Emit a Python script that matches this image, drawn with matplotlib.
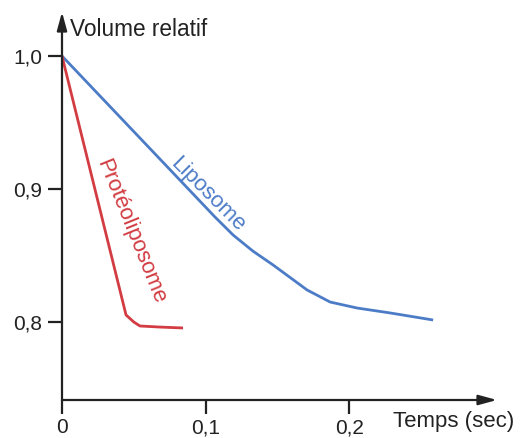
import matplotlib
matplotlib.use("Agg")
import matplotlib.pyplot as plt

plt.rcParams['font.family'] = ['Liberation Sans', 'DejaVu Sans']

# Data
lipo_t = [0.0, 0.1066, 0.1192, 0.1330, 0.1470, 0.1707, 0.1868, 0.2056, 0.2286, 0.2585]
lipo_v = [1.0, 0.8789, 0.8654, 0.8533, 0.8429, 0.8241, 0.8150, 0.8105, 0.8068, 0.8015]
proteo_t = [0.0, 0.0446, 0.0500, 0.0543, 0.0680, 0.0843]
proteo_v = [1.0, 0.8053, 0.8000, 0.7970, 0.7962, 0.7955]
xticks = [0.0, 0.1, 0.2]
xtick_labels = ["0", "0,1", "0,2"]
yticks = [0.8, 0.9, 1.0]
ytick_labels = ["0,8", "0,9", "1,0"]

W, H = 529, 438
fig = plt.figure(figsize=(W/100, H/100), dpi=100)
x0, x1 = 62, 497
ytop, ybot = 12, 400
ax = fig.add_axes([x0/W, (H-ybot)/H, (x1-x0)/W, (ybot-ytop)/H])
ax.set_xlim(0, 0.303)
ax.set_ylim(1.0 - (ybot-56)/1330, 1.0 + (56-ytop)/1330)

blue = '#4d7cc7'
red = '#d23c42'
ax.plot(lipo_t, lipo_v, color=blue, lw=2.0, solid_capstyle='butt', solid_joinstyle='round')
ax.plot(proteo_t, proteo_v, color=red, lw=2.0, solid_capstyle='butt', solid_joinstyle='round')

for s in ax.spines.values():
    s.set_visible(False)
axc = '#222222'
ax.annotate('', xy=(1.0, 0), xytext=(0, 0), xycoords='axes fraction',
            arrowprops=dict(arrowstyle='-|>,head_length=1.1,head_width=0.3', color=axc, lw=1.6,
                            shrinkA=0, shrinkB=0))
ax.annotate('', xy=(0, 1.0), xytext=(0, 0), xycoords='axes fraction',
            arrowprops=dict(arrowstyle='-|>,head_length=1.1,head_width=0.3', color=axc, lw=1.6,
                            shrinkA=0, shrinkB=0))

ax.set_xticks(xticks)
ax.set_xticklabels(xtick_labels)
ax.set_yticks(yticks)
ax.set_yticklabels(ytick_labels)
ax.tick_params(axis='x', direction='out', length=10, width=1.6, color=axc, labelsize=15, pad=3, labelcolor='#222')
ax.tick_params(axis='y', direction='out', length=10, width=1.6, color=axc, labelsize=15, pad=4, labelcolor='#222')

fig.text(70/W, 1-30/H, "Volume relatif", fontsize=16.3, color='#222', ha='left', va='center')
fig.text(393/W, 1-421/H, "Temps (sec)", fontsize=16, color='#222', ha='left', va='center')

ax.text(0.1017, 0.8955, "Liposome", color=blue, fontsize=16, rotation=-45,
        ha='center', va='center', rotation_mode='anchor')
ax.text(0.0478, 0.8677, "Protéoliposome", color=red, fontsize=16, rotation=-68,
        ha='center', va='center', rotation_mode='anchor')

fig.savefig("out.png", dpi=100)
